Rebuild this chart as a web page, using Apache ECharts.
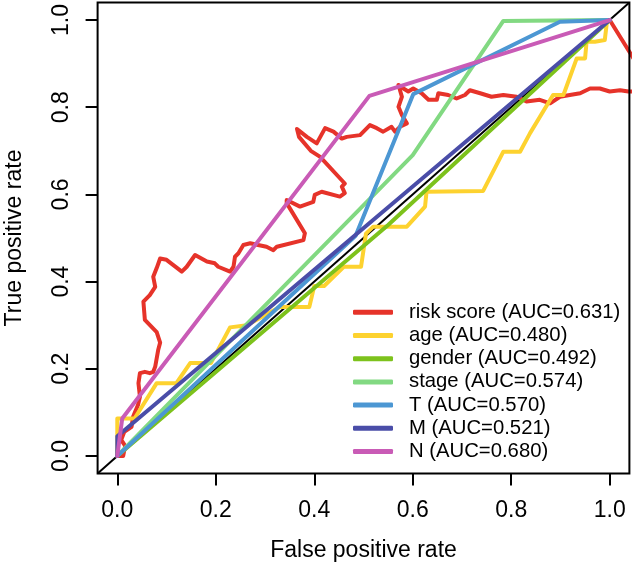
<!DOCTYPE html>
<html><head><meta charset="utf-8">
<script src="https://cdn.jsdelivr.net/npm/echarts@6/dist/echarts.min.js"></script>
<style>html,body{margin:0;padding:0;background:#fff}#c{width:632px;height:569px}</style>
</head><body><div id="c"></div>
<script>
const tickValues = [0, 0.2, 0.4, 0.6, 0.8, 1.0];

const riskFPR = [0.000,0.012,0.016,0.008,0.014,0.029,0.032,0.042,0.046,0.043,0.046,0.056,0.066,0.073,0.077,0.083,0.087,0.080,0.056,0.053,0.066,0.077,0.073,0.080,0.087,0.100,0.131,0.141,0.158,0.182,0.198,0.205,0.229,0.236,0.239,0.246,0.256,0.270,0.286,0.303,0.317,0.324,0.378,0.381,0.344,0.344,0.371,0.398,0.401,0.415,0.452,0.462,0.456,0.462,0.412,0.393,0.369,0.365,0.385,0.405,0.422,0.439,0.456,0.466,0.493,0.513,0.527,0.540,0.557,0.564,0.574,0.588,0.578,0.571,0.578,0.571,0.581,0.591,0.601,0.618,0.632,0.649,0.652,0.672,0.689,0.706,0.716,0.737,0.760,0.784,0.811,0.831,0.858,0.879,0.899,0.919,0.940,0.960,0.980,1.000,1.021,1.038,1.090,1.000];
const riskTPR = [0.000,0.000,0.023,0.037,0.055,0.067,0.090,0.117,0.136,0.167,0.190,0.193,0.190,0.193,0.205,0.243,0.260,0.284,0.312,0.354,0.369,0.388,0.411,0.431,0.453,0.450,0.423,0.434,0.461,0.446,0.442,0.434,0.423,0.434,0.457,0.465,0.484,0.488,0.484,0.480,0.472,0.480,0.495,0.511,0.580,0.587,0.572,0.583,0.599,0.606,0.595,0.603,0.618,0.625,0.686,0.700,0.732,0.750,0.732,0.717,0.752,0.744,0.728,0.732,0.736,0.759,0.752,0.744,0.755,0.744,0.755,0.763,0.782,0.801,0.824,0.851,0.843,0.836,0.843,0.832,0.817,0.817,0.832,0.828,0.820,0.828,0.839,0.832,0.824,0.828,0.824,0.813,0.817,0.809,0.824,0.828,0.832,0.843,0.843,0.836,0.839,0.836,0.836,1.000];

const ageFPR = [0.000,0.000,0.035,0.080,0.120,0.148,0.190,0.229,0.263,0.330,0.390,0.400,0.420,0.460,0.495,0.505,0.520,0.588,0.625,0.628,0.743,0.784,0.818,0.838,0.885,0.906,0.933,0.950,0.953,0.970,0.990,0.994,1.000];
const ageTPR = [0.000,0.086,0.086,0.167,0.167,0.213,0.213,0.295,0.300,0.342,0.342,0.390,0.390,0.434,0.434,0.510,0.526,0.526,0.572,0.606,0.608,0.698,0.698,0.740,0.828,0.828,0.912,0.912,0.950,0.950,0.954,0.992,1.000];

const genderFPR = [0.000,0.550,1.000];
const genderTPR = [0.000,0.530,1.000];

const stageFPR = [0.000,0.600,0.784,1.000];
const stageTPR = [0.000,0.690,0.998,1.000];

const tFPR = [0.000,0.010,0.484,0.601,0.899,1.000];
const tTPR = [0.000,0.010,0.505,0.830,0.996,1.000];

const mFPR = [0.000,0.000,1.000];
const mTPR = [0.000,0.045,1.000];

const nFPR = [0.000,0.010,0.512,1.000];
const nTPR = [0.000,0.086,0.826,1.000];

const seriesNames = ['risk score (AUC=0.631)','age (AUC=0.480)','gender (AUC=0.492)','stage (AUC=0.574)','T (AUC=0.570)','M (AUC=0.521)','N (AUC=0.680)'];
const seriesColors = ['#E6332A','#FDD22F','#7DC21C','#82D982','#4C97D3','#4A4DA8','#C95BB6'];
const diagonal = [-0.04, 1.04];

const zip = (a, b) => a.map((v, i) => [v, b[i]]);
const allData = [zip(riskFPR,riskTPR), zip(ageFPR,ageTPR), zip(genderFPR,genderTPR), zip(stageFPR,stageTPR), zip(tFPR,tTPR), zip(mFPR,mTPR), zip(nFPR,nTPR)];

const FONT = 'Liberation Sans, Arial, Helvetica, sans-serif';
const chart = echarts.init(document.getElementById('c'), null, {renderer: 'canvas'});

const series = [{
  type: 'line', data: zip(diagonal, diagonal), symbol: 'none', silent: true,
  lineStyle: {color: '#000', width: 2}, z: 1, animation: false
}];
allData.forEach((d, i) => series.push({
  type: 'line', name: seriesNames[i], data: d, symbol: 'none', clip: true,
  color: seriesColors[i],
  lineStyle: {color: seriesColors[i], width: 4, cap: 'round', join: 'round'},
  itemStyle: {color: seriesColors[i]}, z: 2 + i, animation: false
}));

chart.setOption({
  animation: false,
  backgroundColor: '#fff',
  grid: {left: 97.6, right: 2.6, top: 2.6, bottom: 95.6, show: true, borderColor: '#000', borderWidth: 2, backgroundColor: 'transparent', z: 10, containLabel: false, outerBoundsMode: 'none'},
  xAxis: {
    type: 'value', min: -0.04, max: 1.04,
    axisLine: {show: false, onZero: false}, splitLine: {show: false},
    axisTick: {show: true, inside: false, length: 12, lineStyle: {color: '#000', width: 2}, customValues: tickValues},
    axisLabel: {customValues: tickValues, formatter: v => v.toFixed(1), fontSize: 23, color: '#000', margin: 25.5, fontFamily: FONT},
    name: 'False positive rate', nameLocation: 'middle', nameGap: 66,
    nameTextStyle: {fontSize: 23, color: '#000', fontFamily: FONT}
  },
  yAxis: {
    type: 'value', min: -0.04, max: 1.04,
    axisLine: {show: false, onZero: false}, splitLine: {show: false},
    axisTick: {show: true, inside: false, length: 12, lineStyle: {color: '#000', width: 2}, customValues: tickValues},
    axisLabel: {customValues: tickValues, formatter: v => v.toFixed(1), fontSize: 23, color: '#000', margin: 24, rotate: 90, fontFamily: FONT},
    name: 'True positive rate', nameLocation: 'middle', nameGap: 71, nameRotate: 90,
    nameTextStyle: {fontSize: 23, color: '#000', fontFamily: FONT}
  },
  legend: {
    data: seriesNames, orient: 'vertical', left: 353, top: 300.7, padding: 0,
    icon: 'roundRect', itemWidth: 40, itemHeight: 5, itemGap: 0, selectedMode: false,
    textStyle: {fontSize: 20.3, lineHeight: 23.2, color: '#000', fontFamily: FONT, padding: [0, 0, 0, 11]}
  },
  series: series
});
</script></body></html>
